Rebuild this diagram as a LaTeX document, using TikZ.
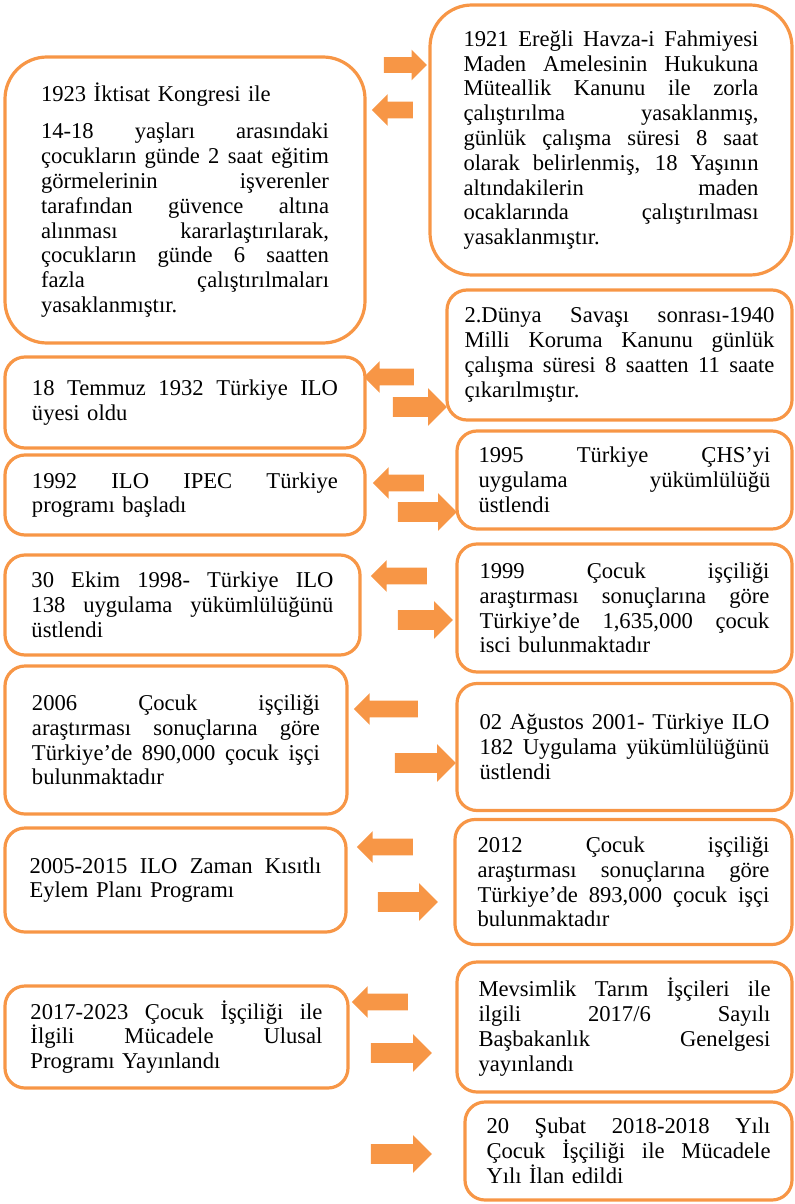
\documentclass[tikz,border=0pt]{standalone}
\usepackage{fontspec}
\setmainfont{Liberation Serif}
\usetikzlibrary{shapes.arrows}
\definecolor{boxorange}{HTML}{F79646}
\newcommand{\jline}[1]{\makebox[\hsize][s]{\spaceskip=0pt\xspaceskip=0pt\relax #1}}

\begin{document}
\begin{tikzpicture}[x=0.5pt, y=-0.5pt,
    box/.style={draw=boxorange, line width=1.6pt, rounded corners=10pt, inner sep=0pt, align=left, font=\fontsize{11.3}{12.4}\selectfont},
    bigbox/.style={box, rounded corners=21pt},
    larrow/.style={single arrow, fill=boxorange, inner xsep=0pt, inner ysep=4pt, single arrow tip angle=90, shape border rotate=180, single arrow head extend=3.75pt},
    rarrow/.style={single arrow, fill=boxorange, inner xsep=0pt, inner ysep=4.75pt, single arrow tip angle=90, single arrow head extend=4.5pt}]
  \useasboundingbox (0,0) rectangle (794,1204);

  \node[bigbox, text width=144pt, minimum width=180pt, minimum height=143pt] (n1923) at (185,200) {1923 İktisat Kongresi ile\\[6.5pt]
    \jline{14-18 yaşları arasındaki}\\ \jline{çocukların günde 2 saat eğitim}\\ \jline{görmelerinin işverenler}\\ \jline{tarafından güvence altına}\\
    \jline{alınması kararlaştırılarak,}\\ \jline{çocukların günde 6 saatten}\\ \jline{fazla çalıştırılmaları}\\ yasaklanmıştır.};
  \node[bigbox, text width=147.5pt, minimum width=181pt, minimum height=135pt] (n1921) at (611,140) {\jline{1921 Ereğli Havza-i Fahmiyesi}\\
    \jline{Maden Amelesinin Hukukuna}\\ \jline{Müteallik Kanunu ile zorla}\\ \jline{çalıştırılma yasaklanmış,}\\ \jline{günlük çalışma süresi 8 saat}\\
    \jline{olarak belirlenmiş, 18 Yaşının}\\ \jline{altındakilerin maden}\\ \jline{ocaklarında çalıştırılması}\\ yasaklanmıştır.};
  \node[box, text width=155pt, minimum width=172.5pt, minimum height=65pt] (n1940) at (619.5,355) {\jline{2.Dünya Savaşı sonrası-1940}\\
    \jline{Milli Koruma Kanunu günlük}\\ \jline{çalışma süresi 8 saatten 11 saate}\\ çıkarılmıştır.};
  \node[box, text width=153pt, minimum width=180pt, minimum height=45.5pt] (n1932) at (185,402.5) {\jline{18 Temmuz 1932 Türkiye ILO}\\ üyesi oldu};
  \node[box, text width=153pt, minimum width=180pt, minimum height=40pt] (n1992) at (185,495) {\jline{1992 ILO IPEC Türkiye}\\ programı başladı};
  \node[box, text width=146pt, minimum width=167.5pt, minimum height=49pt] (n1995) at (624.5,480) {\jline{1995 Türkiye ÇHS’yi}\\ \jline{uygulama yükümlülüğü}\\ üstlendi};
  \node[box, text width=151pt, minimum width=177.5pt, minimum height=50pt] (n1998) at (182.5,605) {\jline{30 Ekim 1998- Türkiye ILO}\\
    \jline{138 uygulama yükümlülüğünü}\\ üstlendi};
  \node[box, text width=145pt, minimum width=167.5pt, minimum height=64pt] (n1999) at (624.5,608) {\jline{1999 Çocuk işçiliği}\\
    \jline{araştırması sonuçlarına göre}\\ \jline{Türkiye’de 1,635,000 çocuk}\\ isci bulunmaktadır};
  \node[box, text width=144pt, minimum width=171pt, minimum height=74pt] (n2006) at (176,740) {\jline{2006 Çocuk işçiliği}\\
    \jline{araştırması sonuçlarına göre}\\ \jline{Türkiye’de 890,000 çocuk işçi}\\ bulunmaktadır};
  \node[box, text width=145pt, minimum width=167.5pt, minimum height=63.5pt] (n2001) at (624.5,747) {\jline{02 Ağustos 2001- Türkiye ILO}\\
    \jline{182 Uygulama yükümlülüğünü}\\ üstlendi};
  \node[box, text width=146pt, minimum width=170.5pt, minimum height=52pt] (n2005) at (175.5,880) {\jline{2005-2015 ILO Zaman Kısıtlı}\\ Eylem Planı Programı};
  \node[box, text width=146pt, minimum width=168.5pt, minimum height=62.5pt] (n2012) at (623.5,882) {\jline{2012 Çocuk işçiliği}\\
    \jline{araştırması sonuçlarına göre}\\ \jline{Türkiye’de 893,000 çocuk işçi}\\ bulunmaktadır};
  \node[box, text width=146pt, minimum width=171.5pt, minimum height=51pt] (n2017) at (176.5,1037) {\jline{2017-2023 Çocuk İşçiliği ile}\\
    \jline{İlgili Mücadele Ulusal}\\ Programı Yayınlandı};
  \node[box, text width=146pt, minimum width=167.5pt, minimum height=65pt] (nmevsim) at (624.5,1027) {\jline{Mevsimlik Tarım İşçileri ile}\\
    \jline{ilgili 2017/6 Sayılı}\\ \jline{Başbakanlık Genelgesi}\\ yayınlandı};
  \node[box, text width=142pt, minimum width=163.5pt, minimum height=49pt] (n2018) at (628.5,1151) {\jline{20 Şubat 2018-2018 Yılı}\\
    \jline{Çocuk İşçiliği ile Mücadele}\\ Yılı İlan edildi};

  \node[rarrow, minimum height=21.5pt, inner ysep=3.75pt, single arrow head extend=3.75pt] (a0r) at (401.5,65) {};
  \node[larrow, minimum height=20.5pt] (a0l) at (396.5,110) {};
  \node[larrow, minimum height=25pt] (a1l) at (393,377) {};
  \node[rarrow, minimum height=27pt] (a1r) at (415,407) {};
  \node[larrow, minimum height=25.5pt] (a2l) at (402.5,483) {};
  \node[rarrow, minimum height=29.5pt] (a2r) at (422.5,512) {};
  \node[larrow, minimum height=28pt] (a3l) at (403,576) {};
  \node[rarrow, minimum height=27.5pt] (a3r) at (420.5,620) {};
  \node[larrow, minimum height=32pt] (a4l) at (390,709) {};
  \node[rarrow, minimum height=30.5pt] (a4r) at (420.5,763) {};
  \node[larrow, minimum height=28pt] (a5l) at (389,847) {};
  \node[rarrow, minimum height=30pt] (a5r) at (403,902) {};
  \node[larrow, minimum height=28pt] (a6l) at (384,1002) {};
  \node[rarrow, minimum height=30.5pt] (a6r) at (396.5,1053) {};
  \node[rarrow, minimum height=30.5pt] (a7r) at (396.5,1154) {};
\end{tikzpicture}
\end{document}
